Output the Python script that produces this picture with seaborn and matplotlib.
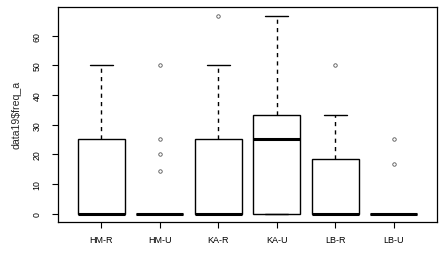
import numpy as np
import pandas as pd
import matplotlib
matplotlib.use("Agg")
import matplotlib.pyplot as plt
import seaborn as sns

groups = ["HM-R", "HM-U", "KA-R", "KA-U", "LB-R", "LB-U"]
hm_r = [0, 0, 0, 0, 0, 0, 25, 25, 50]
hm_u = [0] * 16 + [14.29, 20, 25, 50]
ka_r = [0] * 6 + [25, 25, 50, 66.67]
ka_u = [0, 0, 0, 25, 33.33, 33.33, 66.67]
lb_r = [0, 0, 0, 0, 0, 12.5, 18.33, 33.33, 50]
lb_u = [0] * 8 + [16.67, 25]
yticks = [0, 10, 20, 30, 40, 50, 60]

values = [hm_r, hm_u, ka_r, ka_u, lb_r, lb_u]
df = pd.DataFrame({
    "group": [g for g, v in zip(groups, values) for _ in v],
    "value": [x for v in values for x in v],
})

sns.set_style("white")
plt.rcParams["font.family"] = ["Liberation Sans", "DejaVu Sans"]

fig = plt.figure(figsize=(4.41, 2.55), dpi=100)
ax = fig.add_axes([58 / 441, 1 - 222.5 / 255, (437 - 58) / 441, (222.5 - 8) / 255])

sns.boxplot(
    data=df, x="group", y="value", order=groups, ax=ax,
    width=0.8, color="white", linecolor="black", linewidth=1.0,
    whis=1.5, fliersize=2.5,
    whiskerprops={"linestyle": (0, (3, 3)), "linewidth": 1.0},
    capprops={"linestyle": "-", "linewidth": 1.0},
    medianprops={"linewidth": 2.2, "color": "black"},
    flierprops={"marker": "o", "markerfacecolor": "none",
                "markeredgecolor": "#555555", "markeredgewidth": 0.6},
)

ax.set_xlim(-0.74, 5.74)
ax.set_ylim(-2.67, 69.67)
ax.set_yticks(yticks)
ax.set_yticklabels([str(t) for t in yticks], rotation=90, va="center")
ax.set_xlabel("")
ax.set_ylabel(r"data19\$freq_a", fontsize=7.6, labelpad=8)
ax.tick_params(axis="y", direction="out", length=4, width=0.8, colors="black",
               labelsize=6.3, pad=8, left=True)
ax.tick_params(axis="x", direction="out", length=4, width=0.8, colors="black",
               labelsize=6.5, pad=6, bottom=True)
for s in ax.spines.values():
    s.set_visible(True)
    s.set_color("black")
    s.set_linewidth(0.9)

fig.savefig("out.png", dpi=100)
